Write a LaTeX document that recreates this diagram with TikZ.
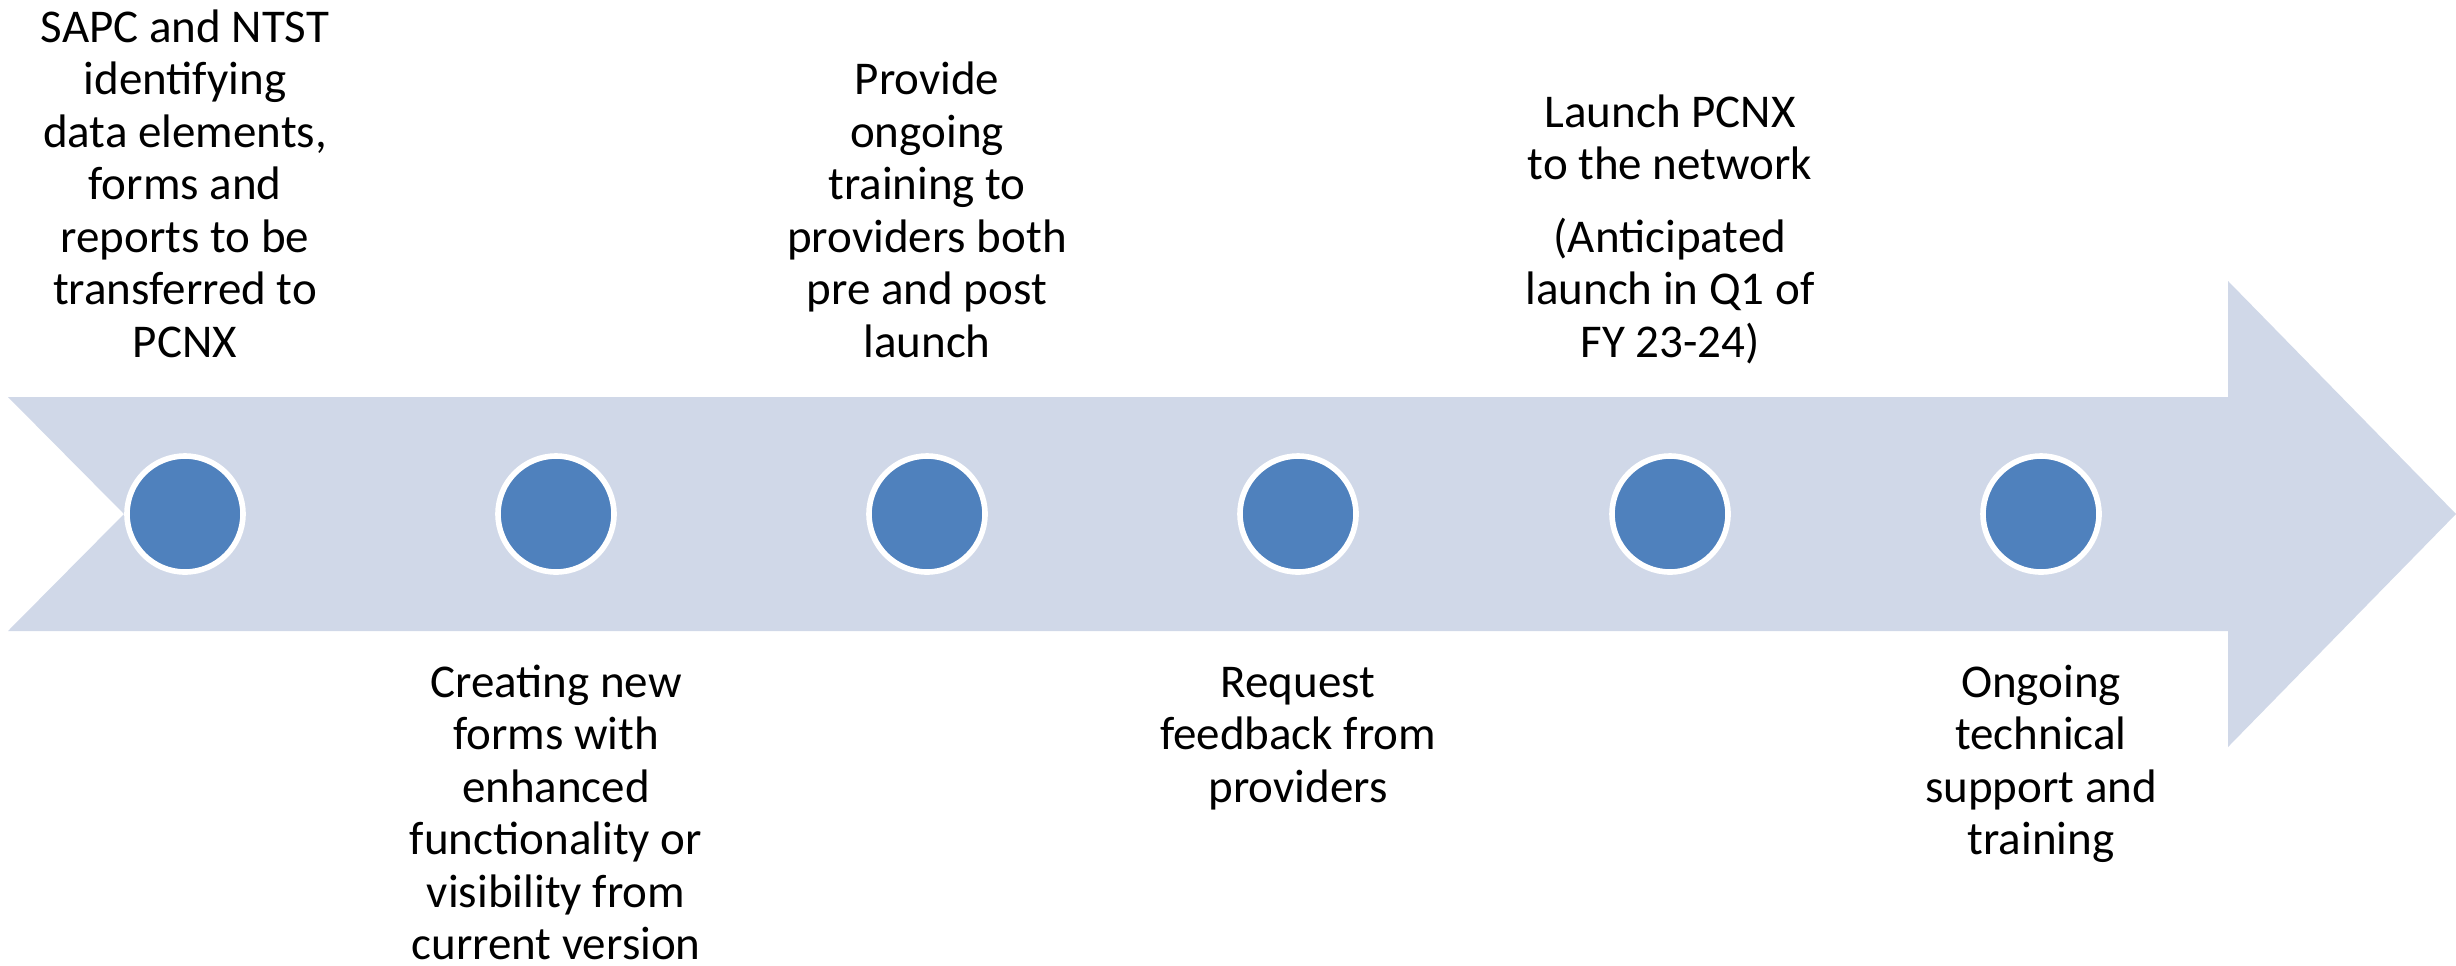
\documentclass[tikz,border=0pt]{standalone}
\usepackage{fontspec}
\setmainfont{Carlito}
\definecolor{band}{RGB}{208,216,232}
\definecolor{dotblue}{RGB}{79,129,189}
\begin{document}
\begin{tikzpicture}[x=0.5pt,y=-0.5pt,
   dot/.style={circle,fill=dotblue,draw=white,line width=2.8pt,minimum size=58pt,inner sep=0pt},
   lbl/.style={align=center,inner sep=0pt,anchor=base,font=\fontsize{23.5}{26.25}\selectfont}]
   \useasboundingbox (0,0) rectangle (2456,965);
   % arrow band
   \fill[band] (8,397) -- (2228,397) -- (2228,281) -- (2456,514) -- (2228,747)
   -- (2228,631) -- (8,631) -- (124,514) -- cycle;
   % milestones
   \node[dot] (dot1) at (185,514) {};
   \node[dot] (dot2) at (556,514) {};
   \node[dot] (dot3) at (927,514) {};
   \node[dot] (dot4) at (1298,514) {};
   \node[dot] (dot5) at (1670,514) {};
   \node[dot] (dot6) at (2041,514) {};
   % labels above
   \node[lbl] (top1) at (dot1 |- 0,357) {SAPC and NTST\\identifying\\data elements,\\forms and\\reports to be\\transferred to\\PCNX};
   \node[lbl] (top3) at (dot3 |- 0,357) {Provide\\ongoing\\training to\\providers both\\pre and post\\launch};
   \node[lbl] (top5) at (dot5 |- 0,357) {Launch PCNX\\to the network\\[10pt](Anticipated\\launch in Q1 of\\FY 23-24)};
   % labels below
   \node[lbl] (bot2) at (dot2 |- 0,959.5) {Creating new\\forms with\\enhanced\\functionality or\\visibility from\\current version};
   \node[lbl] (bot4) at (dot4 |- 0,802) {Request\\feedback from\\providers};
   \node[lbl] (bot6) at (dot6 |- 0,854.5) {Ongoing\\technical\\support and\\training};
\end{tikzpicture}
\end{document}
